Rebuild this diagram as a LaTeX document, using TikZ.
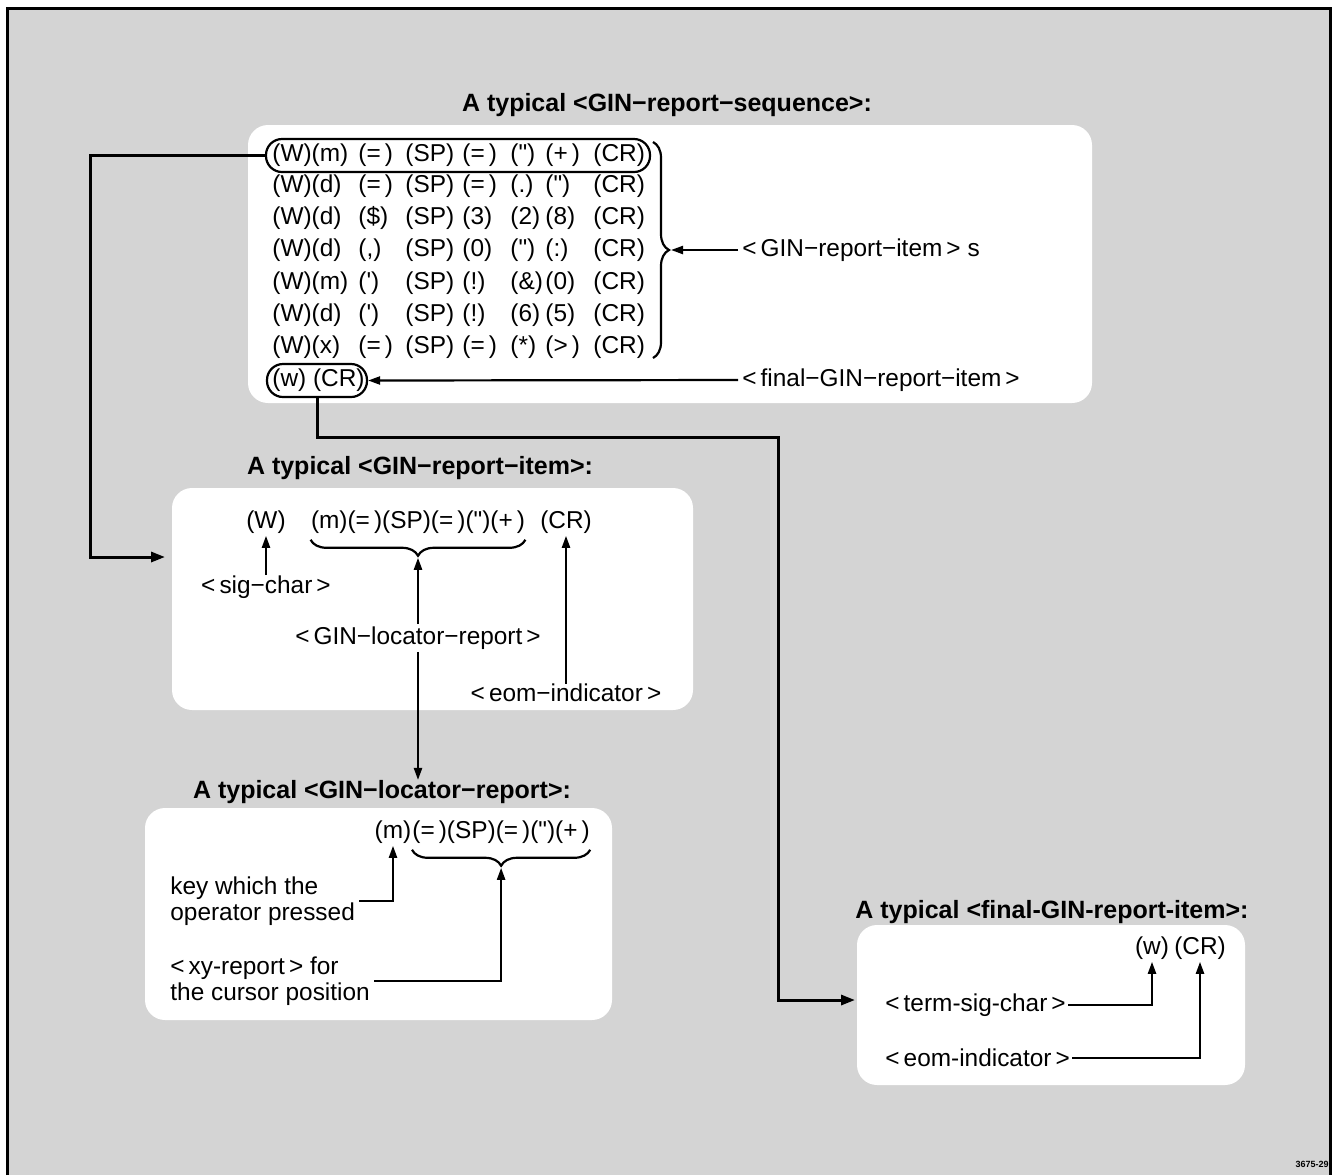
\documentclass[tikz,border=0pt]{standalone}
\usepackage{fontspec}
\newfontfamily\hv{Liberation Sans}
\usetikzlibrary{arrows.meta,decorations.pathreplacing,fit,calc}
\definecolor{bggray}{gray}{0.83}
\newcommand\rowline[9]{%
  \node[txt,anchor=base west] (r#1a) at (272,#2) {#3};
  \node[txt,anchor=base west] (r#1b) at (358,#2) {#4};
  \node[txt,anchor=base west] (r#1c) at (405,#2) {#5};
  \node[txt,anchor=base west] (r#1d) at (462,#2) {#6};
  \node[txt,anchor=base west] (r#1e) at (510,#2) {#7};
  \node[txt,anchor=base west] (r#1f) at (545,#2) {#8};
  \node[txt,anchor=base west] (r#1g) at (593,#2) {#9};
}
\begin{document}
\begin{tikzpicture}[x=0.5pt,y=-0.5pt,
  txt/.style={font=\hv\fontsize{12.2}{13}\selectfont, inner sep=0pt},
  ttl/.style={font=\hv\bfseries\fontsize{12.5}{14}\selectfont, inner sep=0pt},
  panel/.style={fill=white, rounded corners=10pt},
  pill/.style={draw, line width=1.1pt, rounded corners=8pt, inner sep=0pt},
  conn/.style={line width=1.5pt, -{Triangle[length=7pt,width=5pt]}},
  arr/.style={line width=1.1pt, -{Triangle[length=6pt,width=4pt]}},
  brc/.style={decorate, decoration={brace, amplitude=8pt}, line width=1.1pt},
  frame/.style={line width=1.5pt}]
\useasboundingbox (0,0) rectangle (1333,1175);
\fill[bggray] (7,8) rectangle (1330,1175);
\draw[frame] (7,1175) -- (7,8) -- (1330,8) -- (1330,1175);
% panels
\fill[panel] (248,125) rectangle (1092,403);
\fill[panel] (172,488) rectangle (693,710);
\fill[panel] (145,808) rectangle (612,1020);
\fill[panel] (857,925) rectangle (1245,1085);
% titles
\node[ttl] (t1) at (667,105) {A typical <GIN−report−sequence>:};
\node[ttl] (t2) at (420,468) {A typical <GIN−report−item>:};
\node[ttl] (t3) at (382,792) {A typical <GIN−locator−report>:};
\node[ttl,anchor=west] (t4) at (855,912) {A typical <final-GIN-report-item>:};
% rows
\rowline{1}{161}{(W)(m)}{(=\,)}{(SP)}{(=\,)}{(")}{(+\,)}{(CR)}
\rowline{2}{192}{(W)(d)}{(=\,)}{(SP)}{(=\,)}{(.)}{(")}{(CR)}
\rowline{3}{224}{(W)(d)}{(\$)}{(SP)}{(3)}{(2)}{(8)}{(CR)}
\rowline{4}{256}{(W)(d)}{(,)}{(SP)}{(0)}{(")}{(:)}{(CR)}
\rowline{5}{289}{(W)(m)}{(')}{(SP)}{(!)}{(\&)}{(0)}{(CR)}
\rowline{6}{321}{(W)(d)}{(')}{(SP)}{(!)}{(6)}{(5)}{(CR)}
\rowline{7}{353}{(W)(x)}{(=\,)}{(SP)}{(=\,)}{(*)}{(>\,)}{(CR)}
\node[txt,anchor=base west] (r8) at (272,386) {(w) (CR)};
\node[pill, fit={(266,139)(650,172)}] (pill1) {};
\node[pill, fit={(267,364)(367,397)}] (pill2) {};
% brace and labels
\draw[brc] (653,142) -- (653,358);
\coordinate (btip) at (671,250);
\node[txt,anchor=west] (lab1) at (742,250) {<\,GIN−report−item\,> s};
\draw[arr, shorten <=2pt] (lab1.west) -- (btip);
\node[txt,anchor=west] (lab2) at (742,380) {<\,final−GIN−report−item\,>};
\draw[arr, shorten <=2pt] (lab2.west) -- (pill2.east);
% connectors
\coordinate (c1end) at (165,557);
\draw[conn] (pill1.west) -- (90,155.5) |- (c1end);
\coordinate (c2end) at (855,1000);
\draw[conn] (pill2.south) |- (778,437) |- (c2end);
% item panel
\node[txt] (W) at (266,522) {(W)};
\node[txt] (loc) at (418,522) {(m)(=\,)(SP)(=\,)(")(+\,)};
\node[txt] (CR) at (566,522) {(CR)};
\draw[brc] ([yshift=-3pt]loc.south east) -- ([yshift=-3pt]loc.south west);
\coordinate (tip2) at ($(loc.south)+(0,24)$);
\node[txt] (sig) at (266,587) {<\,sig−char\,>};
\draw[arr, shorten >=1pt] (sig.north) -- (W.south);
\node[txt] (glr) at (418,638) {<\,GIN−locator−report\,>};
\draw[arr, shorten <=1pt] (glr.north) -- (tip2);
\draw[arr, shorten <=1pt] (glr.south) -- (glr.south |- t3.north);
\node[txt] (eom1) at (566,693) {<\,eom−indicator\,>};
\draw[arr, shorten >=1pt] (eom1.north) -- (CR.south);
% locator panel
\node[txt] (m3) at (393,832) {(m)};
\node[txt,anchor=west] (xy3) at (412,832) {(=\,)(SP)(=\,)(")(+\,)};
\draw[brc] ([yshift=-3pt]xy3.south east) -- ([yshift=-3pt]xy3.south west);
\coordinate (tip3) at ($(xy3.south)+(0,24)$);
\node[txt,anchor=west,align=left] (key) at (170,901) {key which the\\operator pressed};
\draw[arr, shorten >=1pt] ([xshift=2pt]key.east) -| (m3.south);
\node[txt,anchor=west,align=left] (xyr) at (170,981) {<\,xy-report\,> for\\the cursor position};
\draw[arr] ([xshift=2pt]xyr.east) -| (tip3);
% final panel
\node[txt] (w4) at (1152,948) {(w)};
\node[txt] (cr4) at (1200,948) {(CR)};
\node[txt,anchor=west] (term) at (885,1005) {<\,term-sig-char\,>};
\draw[arr, shorten >=1pt] ([xshift=1pt]term.east) -| (w4.south);
\node[txt,anchor=west] (eom4) at (885,1058) {<\,eom-indicator\,>};
\draw[arr, shorten >=1pt] ([xshift=1pt]eom4.east) -| (cr4.south);
\node[font=\hv\bfseries\fontsize{4.5}{5}\selectfont, inner sep=0pt] (fig) at (1312,1164) {3675-29};
\end{tikzpicture}
\end{document}
